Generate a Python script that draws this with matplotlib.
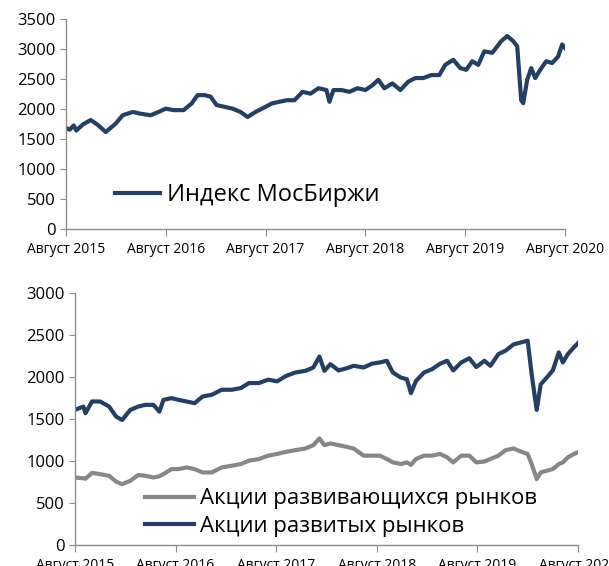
import matplotlib
matplotlib.use("Agg")
import matplotlib.pyplot as plt

# time axis in years since August 2015
x_top = [0.0, 0.04, 0.08, 0.105, 0.17, 0.25, 0.32, 0.40, 0.50, 0.57, 0.67, 0.75, 0.85, 0.93,
         1.00, 1.08, 1.18, 1.26, 1.32, 1.39, 1.45, 1.51, 1.59, 1.67, 1.75, 1.82, 1.90,
         2.00, 2.06, 2.14, 2.21, 2.29, 2.37, 2.45, 2.53, 2.61, 2.64, 2.68, 2.76, 2.84, 2.92,
         3.00, 3.07, 3.13, 3.19, 3.27, 3.35, 3.43, 3.50, 3.58, 3.66, 3.74, 3.80, 3.88, 3.95,
         4.01, 4.07, 4.13, 4.19, 4.27, 4.36, 4.42, 4.48, 4.52, 4.56, 4.58, 4.62, 4.66, 4.70,
         4.75, 4.81, 4.87, 4.93, 4.97, 5.00]
moex = [1690, 1660, 1730, 1645, 1745, 1820, 1740, 1620, 1760, 1900, 1955, 1925, 1900, 1955,
        2010, 1985, 1985, 2095, 2235, 2235, 2210, 2070, 2040, 2010, 1955, 1870, 1955,
        2040, 2095, 2125, 2150, 2150, 2290, 2260, 2350, 2320, 2125, 2320, 2320, 2290, 2350,
        2320, 2400, 2490, 2350, 2430, 2320, 2460, 2520, 2520, 2570, 2570, 2740, 2825, 2685,
        2657, 2800, 2740, 2965, 2940, 3135, 3220, 3135, 3050, 2150, 2100, 2490, 2685, 2520,
        2657, 2800, 2770, 2880, 3080, 3020]

x_bot = [0.0, 0.085, 0.105, 0.17, 0.25, 0.34, 0.41, 0.47, 0.55, 0.63, 0.70, 0.78, 0.84, 0.88,
         0.96, 1.03, 1.11, 1.19, 1.27, 1.36, 1.46, 1.56, 1.65, 1.73, 1.83, 1.92, 2.01, 2.10,
         2.19, 2.29, 2.37, 2.43, 2.48, 2.54, 2.62, 2.70, 2.77, 2.87, 2.95, 3.03, 3.10, 3.16,
         3.24, 3.30, 3.34, 3.39, 3.47, 3.55, 3.63, 3.70, 3.76, 3.84, 3.92, 3.99, 4.07, 4.13,
         4.21, 4.28, 4.36, 4.44, 4.50, 4.54, 4.59, 4.63, 4.69, 4.75, 4.81, 4.85, 4.90, 4.96, 5.00]
developed = [1610, 1650, 1570, 1710, 1710, 1650, 1530, 1490, 1610, 1650, 1670, 1670, 1590, 1730,
             1750, 1730, 1710, 1690, 1770, 1790, 1850, 1850, 1870, 1930, 1930, 1970, 1950, 2015,
             2055, 2075, 2115, 2245, 2075, 2155, 2080, 2105, 2135, 2115, 2160, 2175, 2195, 2055,
             1995, 1975, 1810, 1955, 2055, 2095, 2160, 2195, 2080, 2175, 2225, 2120, 2195, 2135,
             2275, 2315, 2390, 2415, 2435, 2035, 1610, 1915, 1995, 2080, 2295, 2175, 2275, 2355, 2405]
emerging = [805, 795, 790, 860, 845, 825, 755, 725, 765, 835, 825, 805, 820, 845,
            905, 905, 925, 905, 865, 865, 925, 945, 965, 1005, 1025, 1065, 1085, 1110,
            1130, 1150, 1190, 1270, 1190, 1210, 1190, 1170, 1150, 1065, 1065, 1065, 1025, 985,
            965, 985, 955, 1025, 1065, 1065, 1085, 1045, 985, 1065, 1065, 985, 995, 1025,
            1065, 1130, 1150, 1110, 1085, 965, 785, 865, 885, 905, 965, 985, 1045, 1085, 1105]

tick_labels = ["Август 2015", "Август 2016", "Август 2017", "Август 2018", "Август 2019", "Август 2020"]

navy = "#243f62"
grey = "#878787"
spine_c = "#8c8c8c"
plt.rcParams["font.family"] = ["Open Sans", "DejaVu Sans"]

fig = plt.figure(figsize=(6.09, 5.66), dpi=100)
ax1 = fig.add_axes([0.108, 0.595, 0.820, 0.371])
ax2 = fig.add_axes([0.123, 0.037, 0.826, 0.445])


def style(ax, ymax):
    ax.set_xlim(0, 5)
    ax.set_ylim(0, ymax)
    ax.set_yticks(range(0, ymax + 1, 500))
    ax.set_xticks(range(6))
    ax.set_xticklabels(tick_labels)
    for s in ["top", "right"]:
        ax.spines[s].set_visible(False)
    for s in ["left", "bottom"]:
        ax.spines[s].set_color(spine_c)
        ax.spines[s].set_linewidth(1)
    ax.tick_params(axis="y", colors=spine_c, labelcolor="black", labelsize=12, length=4)
    ax.tick_params(axis="x", colors=spine_c, labelcolor="black", labelsize=10, length=5, pad=4)


ax1.plot(x_top, moex, color=navy, lw=3.0, label="Индекс МосБиржи")
style(ax1, 3500)
ax1.legend(loc="center left", bbox_to_anchor=(0.189, 0.655), bbox_transform=fig.transFigure,
           frameon=False, fontsize=17, handlelength=1.9, handletextpad=0.3,
           borderpad=0, borderaxespad=0)

ax2.plot(x_bot, emerging, color=grey, lw=3.0, label="Акции развивающихся рынков")
ax2.plot(x_bot, developed, color=navy, lw=3.0, label="Акции развитых рынков")
style(ax2, 3000)
ax2.legend(loc="center left", bbox_to_anchor=(0.238, 0.094), bbox_transform=fig.transFigure,
           frameon=False, fontsize=16, handlelength=2.2, handletextpad=0.3,
           labelspacing=0.3, borderpad=0, borderaxespad=0)

fig.savefig("out.png", dpi=100)
